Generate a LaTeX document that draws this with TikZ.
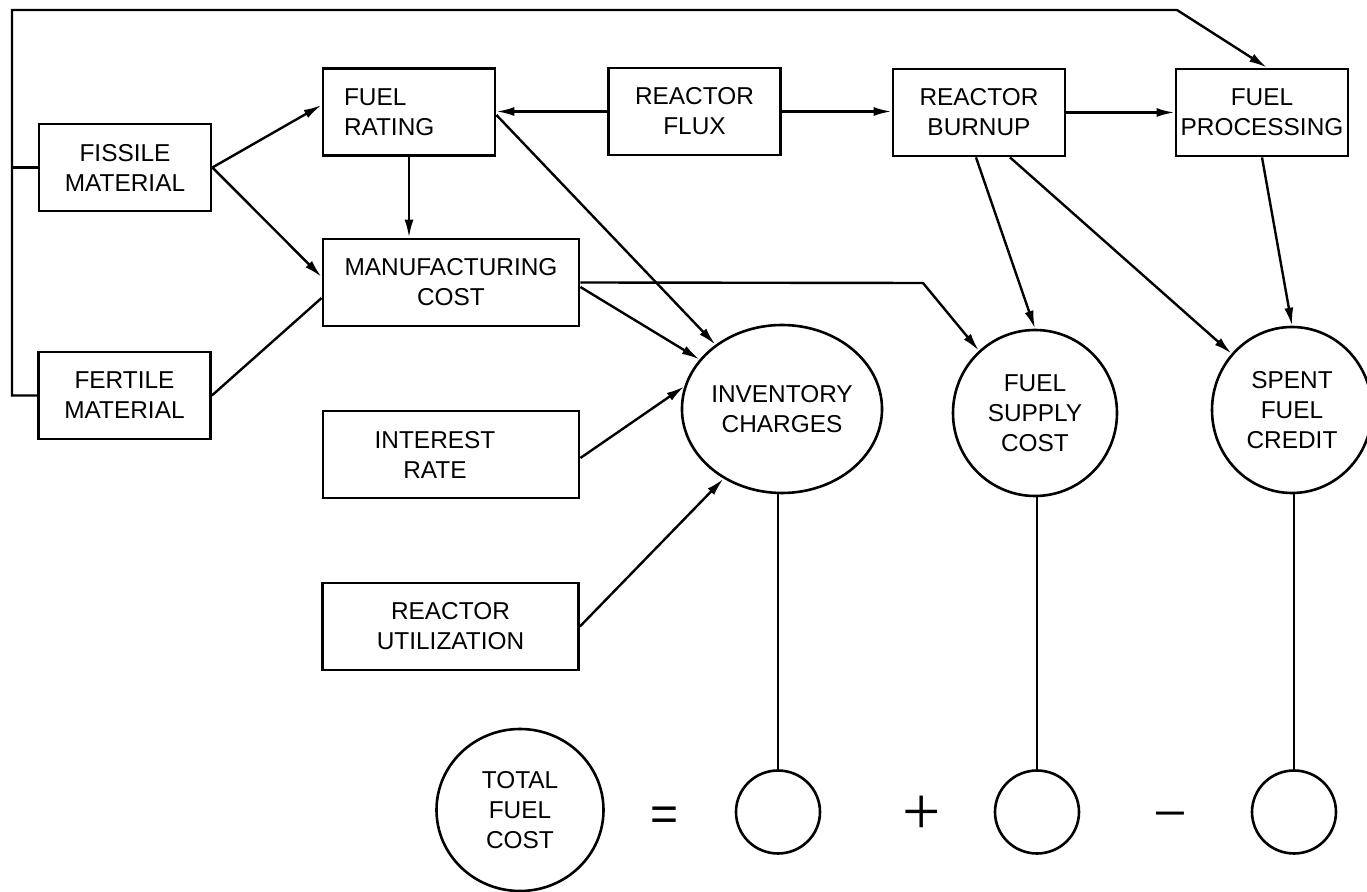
\documentclass[tikz,border=0pt]{standalone}
\usepackage{fontspec}
\setmainfont{Liberation Sans}
\newfontfamily\signfont{Liberation Serif}
\usetikzlibrary{arrows.meta}
\usetikzlibrary{shapes.geometric}

\begin{document}
\begin{tikzpicture}[x=0.5pt,y=-0.5pt,
    box/.style={draw,line width=1.4pt,minimum width=86pt,minimum height=43.5pt,
        inner sep=0pt,align=center,font=\fontsize{12.2}{15}\selectfont},
    widebox/.style={box,minimum width=128pt},
    term/.style={ellipse,draw,line width=1.3pt,inner sep=0pt,minimum width=82pt,
        minimum height=84pt,align=center,font=\fontsize{12.2}{15}\selectfont},
    slot/.style={ellipse,draw,line width=1.3pt,inner sep=0pt,minimum width=42pt,minimum height=41.5pt},
    link/.style={line width=1.2pt},
    flow/.style={link,-{Latex[length=9pt,width=4.5pt]}},
    sign/.style={inner sep=0pt,anchor=base}]

    % Fix the page size
    \useasboundingbox (0,0) rectangle (1367,892);

    % Draw the input boxes
    \node[box] (fissile) at (125,167.5) {FISSILE\\MATERIAL};
    \node[box] (fertile) at (124.5,395.5) {FERTILE\\MATERIAL};
    \node[box,text width=65pt,align=left] (rating) at (409,112) {FUEL\\RATING};
    \node[box] (flux) at (694.5,111.5) {REACTOR\\FLUX};
    \node[box] (burnup) at (979,112.5) {REACTOR\\BURNUP};
    \node[box] (processing) at (1262,112.5) {FUEL\\PROCESSING};
    \node[widebox] (manuf) at (451,282.5) {MANUFACTURING\\COST};
    \node[widebox] (interest) at (451,454.5) {INTEREST\hspace*{16pt}\\RATE\hspace*{16pt}};
    \node[widebox] (util) at (450.5,626.5) {REACTOR\\UTILIZATION};

    % Draw the cost circles
    \node[term] (inv) at (782,409) {INVENTORY\\CHARGES};
    \node[term,minimum height=83pt] (supply) at (1035,413) {FUEL\\SUPPLY\\COST};
    \node[term,minimum width=80pt,minimum height=83pt] (spent) at (1292,410) {SPENT\\FUEL\\CREDIT};
    \node[term,minimum width=83.5pt,minimum height=81pt] (total) at (520,810) {TOTAL\\FUEL\\COST};

    % Draw the sum row
    \node[slot] (slotA) at (778,812) {};
    \node[slot] (slotB) at (1037,812) {};
    \node[slot] (slotC) at (1294,812) {};
    \node[sign,font=\fontsize{24}{24}\selectfont] (eq) at (665,831) {=};
    \node[sign,font=\signfont\fontsize{34}{34}\selectfont] (plus) at (922,835) {+};
    \node[sign,font=\signfont\fontsize{30}{30}\selectfont] (minus) at (1170,834) {\char"2212};

    % Feedback loop round the top
    \coordinate (TL) at (12,10);
    \coordinate (TR) at (1177,10);
    \draw[link] (fissile.west) -- (fissile.west -| TL);
    \draw[flow] (fertile.west) -- (fertile.west -| TL) -- (TL) -- (TR) -- ([xshift=2.5pt]processing.north);

    % Draw the arrows between the boxes
    \draw[flow] (fissile.east) -- ([yshift=3.5pt]rating.west);
    \draw[flow] (fissile.east) -- ([yshift=2.75pt]manuf.west);
    \draw[link] (fertile.east) -- ([yshift=-7.75pt]manuf.west);
    \draw[flow] (rating.south) -- (rating.south |- manuf.north);
    \draw[flow] (flux.west) -- (flux.west -| rating.east);
    \draw[flow] (flux.east) -- (flux.east -| burnup.west);
    \draw[flow] (burnup.east) -- (burnup.east -| processing.west);

    % Draw the arrows into the circles
    \coordinate (MB) at (923,283);
    \draw[flow] ([yshift=-1.5pt]rating.east) -- (inv.136);
    \draw[flow] ([yshift=-2.25pt]manuf.east) -- (inv.149);
    \draw[flow] (manuf.east) -- (MB) -- (supply.132);
    \draw[flow] ([yshift=-1.75pt]interest.east) -- (inv.167);
    \draw[flow] (util.east) -- (inv.230);
    \draw[flow] ([xshift=-1.5pt]burnup.south) -- (supply.north);
    \draw[flow] ([xshift=15.5pt]burnup.south) -- (spent.137);
    \draw[flow] (processing.south) -- (spent.north);

    % Drop lines to the sum row
    \draw[link] (slotA.north) -- (slotA.north |- inv.south);
    \draw[link] (slotB.north) -- (slotB.north |- supply.south);
    \draw[link] (slotC.north) -- (slotC.north |- spent.south);
\end{tikzpicture}
\end{document}
